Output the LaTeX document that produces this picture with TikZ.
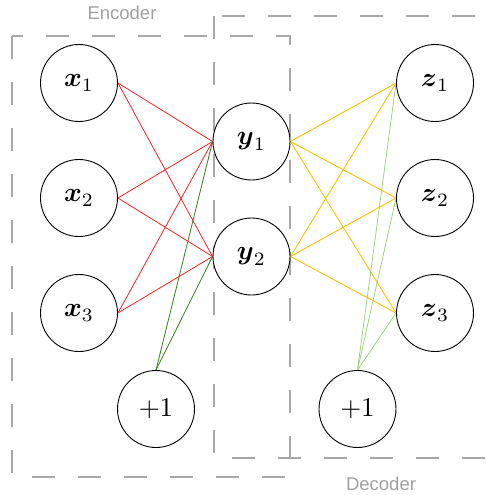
\documentclass[tikz,border=0pt]{standalone}
\usepackage{amsmath}
\usepackage{graphicx}
\usepackage{fontspec}
\setsansfont{Liberation Sans}
\pgfdeclarelayer{background}
\pgfsetlayers{background,main}
\definecolor{boxgray}{HTML}{A8A8A8}
\definecolor{labelgray}{HTML}{A0A0A0}
\definecolor{encred}{HTML}{FF2020}
\definecolor{decyellow}{HTML}{FFC000}
\definecolor{biasdark}{HTML}{3C7A1E}
\definecolor{biaslight}{HTML}{9ED47E}
% large math label inside a unit
\newcommand{\unitlabel}[1]{\scalebox{2.7}{$#1$}}
\begin{document}
\begin{tikzpicture}[x=1pt,y=-1pt,
  unit/.style={circle,draw,fill=white,minimum size=77pt,inner sep=0pt,
    line width=0.9pt},
  grp/.style={draw=boxgray,line width=2pt,dash pattern=on 23pt off 23pt},
  grplabel/.style={text=labelgray,font=\sffamily\fontsize{18.5}{20}\selectfont},
  encw/.style={draw=encred,line width=0.8pt},
  decw/.style={draw=decyellow,line width=0.9pt},
  encb/.style={draw=biasdark,line width=0.8pt},
  decb/.style={draw=biaslight,line width=0.8pt}]
\useasboundingbox (0,0) rectangle (486,495);
\clip (0,0) rectangle (486,495);

% units
\node[unit] (x1) at (79,83)  {\unitlabel{\boldsymbol{x}_1}};
\node[unit] (x2) at (79,198) {\unitlabel{\boldsymbol{x}_2}};
\node[unit] (x3) at (79,313) {\unitlabel{\boldsymbol{x}_3}};
\node[unit] (b1) at (156,409) {\unitlabel{+1}};
\node[unit] (y1) at (251.5,141.5) {\unitlabel{\boldsymbol{y}_1}};
\node[unit] (y2) at (251.5,256.5) {\unitlabel{\boldsymbol{y}_2}};
\node[unit] (z1) at (435,83)  {\unitlabel{\boldsymbol{z}_1}};
\node[unit] (z2) at (435,198) {\unitlabel{\boldsymbol{z}_2}};
\node[unit] (z3) at (435,313) {\unitlabel{\boldsymbol{z}_3}};
\node[unit] (b2) at (357.5,409) {\unitlabel{+1}};

% group labels
\node[grplabel] (enclabel) at (122,13) {Encoder};
\node[grplabel] (declabel) at (381,484) {Decoder};

\begin{pgfonlayer}{background}
  % dashed group frames
  \draw[grp] (12,36) rectangle (290,476.5);
  \draw[grp] (213.5,16) rectangle (500,458);
  % weights
  \foreach \i in {1,2,3}
    \foreach \j in {1,2} {
      \draw[encw] (x\i.east) -- (y\j.west);
      \draw[decw] (y\j.east) -- (z\i.west);
    }
  \foreach \j in {1,2}
    \draw[encb] (b1.north) -- (y\j.west);
  \foreach \i in {1,2,3}
    \draw[decb] (b2.north) -- (z\i.west);
\end{pgfonlayer}
\end{tikzpicture}
\end{document}
